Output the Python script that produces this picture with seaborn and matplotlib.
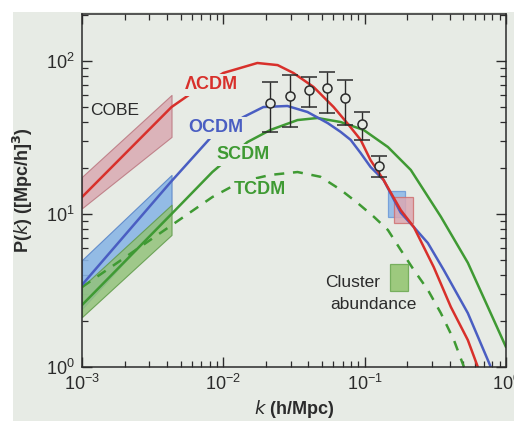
import numpy as np
import pandas as pd
import matplotlib
matplotlib.use("Agg")
import matplotlib.pyplot as plt
import seaborn as sns
from matplotlib.patches import Rectangle

# power spectrum curves, k in h/Mpc, P in (Mpc/h)^3
lcdm_k = [0.001, 0.0043, 0.00612, 0.01, 0.0174, 0.0242, 0.0313, 0.0435, 0.0603,
          0.0757, 0.0937, 0.110, 0.136, 0.18, 0.223, 0.308, 0.407, 0.537, 0.632]
lcdm_P = [12.9, 50, 62.7, 83.5, 97, 94, 83.5, 67.6, 50,
          39, 30.5, 22.5, 16.7, 10.6, 8.2, 4.5, 2.47, 1.5, 1.0]

ocdm_k = [0.001, 0.0042, 0.0081, 0.01386, 0.0192, 0.0284, 0.0394, 0.0547, 0.0676,
          0.0796, 0.0937, 0.110, 0.136, 0.18, 0.223, 0.28, 0.363, 0.537, 0.744, 0.78]
ocdm_P = [3.44, 16.0, 31.4, 43.0, 50.0, 50.8, 46.4, 39.3, 34.4,
          30.5, 25.0, 20.3, 16.7, 10.2, 8.2, 6.46, 4.3, 2.25, 1.11, 1.0]

scdm_k = [0.001, 0.0043, 0.00836, 0.0148, 0.0215, 0.0335, 0.0464, 0.0676, 0.0984,
          0.146, 0.212, 0.346, 0.537, 0.744, 1.0]
scdm_P = [2.54, 10.0, 18.8, 29.5, 35.4, 41.1, 42.4, 39.9, 35.4,
          27.4, 19.4, 9.6, 4.8, 2.47, 1.35]

tcdm_k = [0.001, 0.00143, 0.00836, 0.0132, 0.0215, 0.0335, 0.0487, 0.0676, 0.0891,
          0.116, 0.146, 0.18, 0.223, 0.28, 0.346, 0.428, 0.504]
tcdm_P = [3.33, 4.18, 12.9, 16.2, 18.0, 18.8, 17.5, 14.4, 11.8,
          9.6, 7.86, 5.82, 4.3, 3.19, 2.25, 1.5, 1.0]

# galaxy survey points with error bars
pts_k = [0.0215, 0.0294, 0.0401, 0.0537, 0.0721, 0.0952, 0.1256]
pts_P = [53.1, 59.1, 64.6, 66.6, 57.3, 38.7, 20.6]
pts_lo = [34.4, 37.0, 50.0, 45.7, 38.2, 30.5, 17.5]
pts_hi = [72.9, 81.0, 78.6, 84.8, 75.2, 46.4, 23.9]

# COBE normalisation bands
band_k = [0.001, 0.0043]
cobe_lo, cobe_hi = [10.9, 31.9], [17.5, 60.0]
blue_lo, blue_hi = [2.4, 10.5], [5.0, 18.0]
green_lo, green_hi = [2.12, 7.3], [3.33, 11.5]

# cluster abundance boxes: (k0, k1, P0, P1)
box_blue = (0.1455, 0.192, 9.56, 14.1)
box_red = (0.1607, 0.2188, 8.74, 12.9)
box_green = (0.150, 0.2018, 3.14, 4.71)

bg = "#e7ebe5"
red = "#d8302b"
blue = "#4a5ec2"
green = "#3f9a33"
ink = "#2b2b2b"

sns.set_style("ticks")
plt.rcParams["font.family"] = ["Liberation Sans", "DejaVu Sans"]
plt.rcParams["mathtext.default"] = "regular"

fig = plt.figure(figsize=(5.14, 4.21), dpi=100, facecolor="white")
fig.patches.append(Rectangle((13 / 514, 0), 1, 1 - 12 / 421, transform=fig.transFigure,
                             facecolor=bg, edgecolor="none", zorder=-10))
ax = fig.add_axes([82 / 514, 54 / 421, 424 / 514, 353 / 421])
ax.set_facecolor(bg)
ax.set_xscale("log")
ax.set_yscale("log")

# bands
ax.fill_between(band_k, cobe_lo, cobe_hi, facecolor="#d9a6ae", edgecolor="#b8707a",
                lw=0.8, alpha=0.8, zorder=1)
ax.fill_between(band_k, blue_lo, blue_hi, facecolor="#8ab6e6", edgecolor="#5a86c8",
                lw=0.8, alpha=0.9, zorder=1)
ax.fill_between(band_k, green_lo, green_hi, facecolor="#93c27a", edgecolor="#5e9a48",
                lw=0.8, alpha=0.85, zorder=1.1)

# boxes
for (k0, k1, p0, p1), fc, ec in [(box_blue, "#8cb8e8", "#6a98d8"),
                                 (box_red, "#dca8b2", "#d07070"),
                                 (box_green, "#90c46c", "#6aa850")]:
    ax.add_patch(Rectangle((k0, p0), k1 - k0, p1 - p0, facecolor=fc, edgecolor=ec,
                           lw=0.9, alpha=0.85, zorder=1.2))

curves = pd.DataFrame({
    "k": lcdm_k + ocdm_k + scdm_k + tcdm_k,
    "P": lcdm_P + ocdm_P + scdm_P + tcdm_P,
    "model": ["LCDM"] * len(lcdm_k) + ["OCDM"] * len(ocdm_k)
             + ["SCDM"] * len(scdm_k) + ["TCDM"] * len(tcdm_k),
})
sns.lineplot(data=curves[curves.model == "SCDM"], x="k", y="P", color=green, lw=1.8,
             sort=False, ax=ax, zorder=2)
sns.lineplot(data=curves[curves.model == "TCDM"], x="k", y="P", color=green, lw=1.8,
             linestyle=(0, (4, 3.5)), sort=False, ax=ax, zorder=2)
sns.lineplot(data=curves[curves.model == "OCDM"], x="k", y="P", color=blue, lw=1.8,
             sort=False, ax=ax, zorder=2.1)
sns.lineplot(data=curves[curves.model == "LCDM"], x="k", y="P", color=red, lw=1.8,
             sort=False, ax=ax, zorder=2.2)

yerr = [np.array(pts_P) - np.array(pts_lo), np.array(pts_hi) - np.array(pts_P)]
ax.errorbar(pts_k, pts_P, yerr=yerr, fmt="o", ms=6.5, mfc=bg, mec=ink, mew=1.1,
            ecolor=ink, elinewidth=1.0, capsize=5.5, capthick=1.0, zorder=3)

# labels
box = dict(facecolor=bg, edgecolor="none", pad=1.5)
ax.text(0.00822, 69.7, "ΛCDM", color=red, fontsize=13, fontweight="bold",
        ha="center", va="center", bbox=box, zorder=4)
ax.text(0.00891, 36.5, "OCDM", color=blue, fontsize=13, fontweight="bold",
        ha="center", va="center", bbox=box, zorder=4)
ax.text(0.01386, 24.3, "SCDM", color=green, fontsize=13, fontweight="bold",
        ha="center", va="center", bbox=box, zorder=4)
ax.text(0.01828, 14.4, "TCDM", color=green, fontsize=13, fontweight="bold",
        ha="center", va="center", bbox=box, zorder=4)
ax.text(0.00114, 47.8, "COBE", color=ink, fontsize=12.5, ha="left", va="center", zorder=4)
ax.text(0.0528, 3.59, "Cluster", color=ink, fontsize=12.5, ha="left", va="center", zorder=4)
ax.text(0.0574, 2.58, "abundance", color=ink, fontsize=12.5, ha="left", va="center", zorder=4)

ax.set_xlim(1e-3, 1.0)
ax.set_ylim(1.0, 10 ** 2.307)
ax.set_xticks([1e-3, 1e-2, 1e-1, 1e0])
ax.set_xticklabels(["$10^{-3}$", "$10^{-2}$", "$10^{-1}$", "$10^{0}$"])
ax.set_yticks([1e0, 1e1, 1e2])
ax.set_yticklabels(["$10^{0}$", "$10^{1}$", "$10^{2}$"])
ax.tick_params(which="both", direction="in", top=True, right=True, colors=ink,
               labelsize=13)
ax.tick_params(which="major", length=7, width=1.0, pad=5)
ax.tick_params(which="minor", length=4, width=0.9)
for s in ax.spines.values():
    s.set_color(ink)
    s.set_linewidth(1.1)

ax.set_xlabel(r"$\mathbf{\mathit{k}}$ (h/Mpc)", fontsize=13, fontweight="bold",
              color=ink, labelpad=3)
ax.set_ylabel(r"P($\mathbf{\mathit{k}}$) ([Mpc/h]$^{\mathbf{3}}$)", fontsize=13,
              fontweight="bold", color=ink, labelpad=8)

fig.savefig("out.png", dpi=100, facecolor=fig.get_facecolor())
